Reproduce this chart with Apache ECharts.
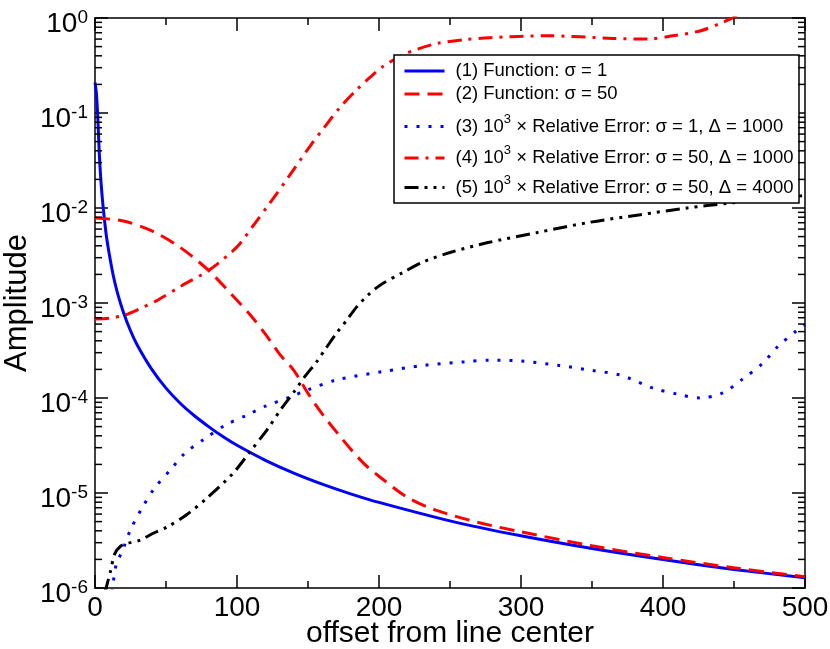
<!DOCTYPE html>
<html><head><meta charset="utf-8">
<script src="https://cdn.jsdelivr.net/npm/echarts@6/dist/echarts.min.js"></script>
<style>html,body{margin:0;padding:0;background:#fff}#c{width:830px;height:649px}</style>
</head><body><div id="c"></div>
<script>
const FONT = '"Liberation Sans", Arial, Helvetica, sans-serif';

const seriesNames = [
  '(1) Function: σ = 1',
  '(2) Function: σ = 50',
  '(3) 10^3 × Relative Error: σ = 1, Δ = 1000',
  '(4) 10^3 × Relative Error: σ = 50, Δ = 1000',
  '(5) 10^3 × Relative Error: σ = 50, Δ = 4000'
];
const legendLabels = [
  '{p|(1) Function: σ = 1}',
  '{p|(2) Function: σ = 50}',
  '{p|(3) 10}{s|3}{p| × Relative Error: σ = 1, Δ = 1000}',
  '{p|(4) 10}{s|3}{p| × Relative Error: σ = 50, Δ = 1000}',
  '{p|(5) 10}{s|3}{p| × Relative Error: σ = 50, Δ = 4000}'
];

// (1) Function, sigma = 1
const x1 = [0, 1, 2, 3, 4, 5, 6, 8, 10, 13, 16, 20, 25, 30, 40, 50, 60, 70, 80, 90, 100, 120, 140, 160, 180, 200, 250, 300, 350, 400, 450, 500];
const y1 = [0.21, 0.16, 0.088, 0.038, 0.021, 0.0135, 0.0093, 0.0051, 0.0033, 0.0019, 0.00125, 0.0008, 0.00051, 0.000355, 0.0002, 0.000127, 8.8e-5, 6.5e-5, 5.0e-5, 3.93e-5, 3.18e-5, 2.21e-5, 1.62e-5, 1.24e-5, 9.8e-6, 7.96e-6, 5.09e-6, 3.54e-6, 2.6e-6, 1.99e-6, 1.57e-6, 1.28e-6];

// (2) Function, sigma = 50
const x2 = [0, 20, 40, 60, 80, 100, 110, 120, 130, 140, 150, 160, 170, 180, 190, 200, 220, 240, 270, 300, 350, 400, 450, 500];
const y2 = [7.85e-3, 7.3e-3, 5.75e-3, 3.85e-3, 2.2e-3, 1.07e-3, 7.3e-4, 4.7e-4, 2.9e-4, 1.95e-4, 1.12e-4, 6.8e-5, 4.4e-5, 2.9e-5, 2.0e-5, 1.5e-5, 9.0e-6, 6.6e-6, 4.9e-6, 3.9e-6, 2.78e-6, 2.09e-6, 1.63e-6, 1.31e-6];

// (3) 10^3 x relative error, sigma = 1, Delta = 1000
const x3 = [12, 15, 19, 25, 33, 42, 53, 63, 77, 92, 107, 120, 137, 150, 170, 203, 231, 260, 278, 300, 327, 350, 370, 393, 410, 426, 442, 456, 470, 481, 494, 500];
const y3 = [9e-7, 1.8e-6, 2.4e-6, 4.1e-6, 6.9e-6, 1.13e-5, 1.74e-5, 2.6e-5, 3.7e-5, 5.2e-5, 6.6e-5, 8.2e-5, 1.02e-4, 1.22e-4, 1.55e-4, 1.9e-4, 2.2e-4, 2.4e-4, 2.5e-4, 2.45e-4, 2.2e-4, 1.95e-4, 1.74e-4, 1.27e-4, 1.1e-4, 1.0e-4, 1.13e-4, 1.58e-4, 2.3e-4, 3.5e-4, 5.1e-4, 5.9e-4];

// (4) 10^3 x relative error, sigma = 50, Delta = 1000
const x4 = [0, 10, 20, 30, 44, 62, 80, 100, 112, 123, 137, 152, 161, 172, 184, 194, 203, 217, 227, 241, 260, 278, 318, 365, 389, 407, 426, 442, 452, 460];
const y4 = [6.8e-4, 6.9e-4, 7.4e-4, 8.5e-4, 1.07e-3, 1.55e-3, 2.2e-3, 3.9e-3, 6.7e-3, 1.12e-2, 2.2e-2, 0.046, 0.069, 0.112, 0.174, 0.24, 0.31, 0.41, 0.47, 0.54, 0.59, 0.62, 0.65, 0.61, 0.6, 0.65, 0.73, 0.9, 1.05, 1.2];

// (5) 10^3 x relative error, sigma = 50, Delta = 4000
const x5 = [7, 10.6, 14, 18, 23, 32, 40, 51, 64.5, 79, 97, 109, 121, 132, 140, 148, 156, 163, 170, 177, 184, 192, 201, 217, 231, 250, 276, 311, 349, 384, 417, 445, 475, 500];
const y5 = [9e-7, 1.44e-6, 2.3e-6, 2.75e-6, 2.95e-6, 3.2e-6, 3.7e-6, 4.4e-6, 5.9e-6, 8.9e-6, 1.6e-5, 2.7e-5, 4.6e-5, 8.0e-5, 1.15e-4, 1.7e-4, 2.4e-4, 3.4e-4, 4.8e-4, 6.5e-4, 9.0e-4, 1.2e-3, 1.55e-3, 2.1e-3, 2.7e-3, 3.4e-3, 4.3e-3, 5.5e-3, 7.1e-3, 8.5e-3, 1.0e-2, 1.12e-2, 1.25e-2, 1.35e-2];

const xTicks = { min: 0, max: 500, interval: 100 };
const xMinorTickValues = [50, 150, 250, 350, 450];
const yDecades = { min: 1e-6, max: 1 };

function pairs(xs, ys) { return xs.map((x, i) => [x, ys[i]]); }

const yMinorTickValues = [];
for (let e = -6; e < 0; e++) for (let m = 2; m <= 9; m++) yMinorTickValues.push(m * Math.pow(10, e));

const axisLineStyle = { color: '#000', width: 1.5 };
const chart = echarts.init(document.getElementById('c'), null, { renderer: 'canvas' });

function xAxisDef(pos, showLabel) {
  return {
    type: 'value', min: xTicks.min, max: xTicks.max, interval: xTicks.interval, position: pos,
    axisLine: { show: true, onZero: false, lineStyle: axisLineStyle },
    axisTick: { show: true, inside: true, length: 13, lineStyle: axisLineStyle },
    minorTick: { show: false },
    splitLine: { show: false }, minorSplitLine: { show: false },
    axisLabel: { show: showLabel, fontSize: 28, color: '#000', fontFamily: FONT, margin: 6 },
    name: showLabel ? 'offset from line center' : '',
    nameLocation: 'middle', nameGap: 31, nameMoveOverlap: false,
    nameTextStyle: { fontSize: 30, lineHeight: 30, color: '#000', fontFamily: FONT }
  };
}
function yAxisDef(pos, showLabel) {
  return {
    type: 'log', logBase: 10, min: yDecades.min, max: yDecades.max, splitNumber: 6, position: pos,
    axisLine: { show: true, onZero: false, lineStyle: axisLineStyle },
    axisTick: { show: true, inside: true, length: 13, lineStyle: axisLineStyle },
    splitLine: { show: false },
    axisLabel: {
      show: showLabel, margin: 7, padding: [13, 0, 0, 0],
      formatter: function (v) {
        const e = Math.round(Math.log10(v));
        return '{b|10}{s|' + (e < 0 ? '-' + (-e) : String(e)) + '}';
      },
      rich: {
        b: { fontSize: 28, lineHeight: 32, color: '#000', fontFamily: FONT },
        s: { fontSize: 19, lineHeight: 2, verticalAlign: 'top', color: '#000', fontFamily: FONT }
      }
    },
    name: showLabel ? 'Amplitude' : '',
    nameLocation: 'middle', nameGap: 62, nameRotate: 90, nameMoveOverlap: false,
    nameTextStyle: { fontSize: 31, lineHeight: 31, color: '#000', fontFamily: FONT }
  };
}

const styles = [
  { color: '#0000ff', type: 'solid' },
  { color: '#ff0000', type: [15, 8] },
  { color: '#0000ff', type: [3, 9] },
  { color: '#ff0000', type: [14, 7, 3, 7] },
  { color: '#000000', type: [14, 6, 3, 6, 3, 6] }
];
const dataSets = [pairs(x1, y1), pairs(x2, y2), pairs(x3, y3), pairs(x4, y4), pairs(x5, y5)];

const lineSeries = dataSets.map((d, i) => ({
  name: seriesNames[i], type: 'line', data: d, xAxisIndex: 0, yAxisIndex: 0,
  symbol: 'none', showSymbol: false, smooth: 0.3, clip: true,
  lineStyle: { color: styles[i].color, width: 3, type: styles[i].type },
  itemStyle: { color: styles[i].color },
  emphasis: { disabled: true }, z: 2
}));

function tickLine(x1_, y1_, x2_, y2_) {
  return { type: 'line', shape: { x1: x1_, y1: y1_, x2: x2_, y2: y2_ }, style: { stroke: '#000', lineWidth: 1.5 } };
}

const yMinorTickSeries = {
  type: 'custom', name: 'yminor', xAxisIndex: 0, yAxisIndex: 0, silent: true, clip: false, z: 6,
  data: yMinorTickValues.map(v => [xTicks.min, v]),
  encode: { x: 0, y: 1 },
  renderItem: function (params, api) {
    const v = api.value(1);
    const l = api.coord([xTicks.min, v]);
    const r = api.coord([xTicks.max, v]);
    return { type: 'group', children: [tickLine(l[0], l[1], l[0] + 7, l[1]), tickLine(r[0] - 7, r[1], r[0], r[1])] };
  }
};
const xMinorTickSeries = {
  type: 'custom', name: 'xminor', xAxisIndex: 0, yAxisIndex: 0, silent: true, clip: false, z: 6,
  data: xMinorTickValues.map(v => [v, yDecades.min]),
  encode: { x: 0, y: 1 },
  renderItem: function (params, api) {
    const v = api.value(0);
    const b = api.coord([v, yDecades.min]);
    const t = api.coord([v, yDecades.max]);
    return { type: 'group', children: [tickLine(b[0], b[1], b[0], b[1] - 7), tickLine(t[0], t[1], t[0], t[1] + 7)] };
  }
};

// legend box frame and one legend entry per row
const legendBox = { left: 394, top: 55, width: 405, height: 148 };
const legendRowCenters = [70.5, 93.5, 124.5, 156, 185.5];
const legendRowHalf = [9, 9, 12, 12, 12];
const legends = seriesNames.map((name, i) => ({
  orient: 'vertical', left: legendBox.left + 9, top: legendRowCenters[i] - legendRowHalf[i], padding: 0, itemGap: 0,
  itemWidth: 40, itemHeight: 14, backgroundColor: 'transparent', borderWidth: 0,
  selectedMode: false, data: [name], z: 6,
  itemStyle: { opacity: 0, borderWidth: 0 },
  lineStyle: { width: 3 },
  formatter: function (n) { return legendLabels[seriesNames.indexOf(n)]; },
  textStyle: {
    fontFamily: FONT, color: '#000', fontSize: 18.5, padding: [0, 0, 0, 6],
    rich: {
      p: { fontSize: 18.5, lineHeight: 28, color: '#000', fontFamily: FONT },
      s: { fontSize: 13, lineHeight: 10, verticalAlign: 'top', color: '#000', fontFamily: FONT }
    }
  }
}));

chart.setOption({
  animation: false,
  backgroundColor: '#fff',
  grid: { left: 95, right: 25, top: 18, bottom: 61, containLabel: false, outerBoundsMode: 'none' },
  xAxis: [xAxisDef('bottom', true), xAxisDef('top', false)],
  yAxis: [yAxisDef('left', true), yAxisDef('right', false)],
  graphic: [{
    type: 'rect', z: 5, silent: true,
    shape: { x: legendBox.left, y: legendBox.top, width: legendBox.width, height: legendBox.height },
    style: { fill: '#fff', stroke: '#000', lineWidth: 1.5 }
  }],
  legend: legends,
  series: lineSeries.concat([yMinorTickSeries, xMinorTickSeries])
});
</script>
</body></html>
